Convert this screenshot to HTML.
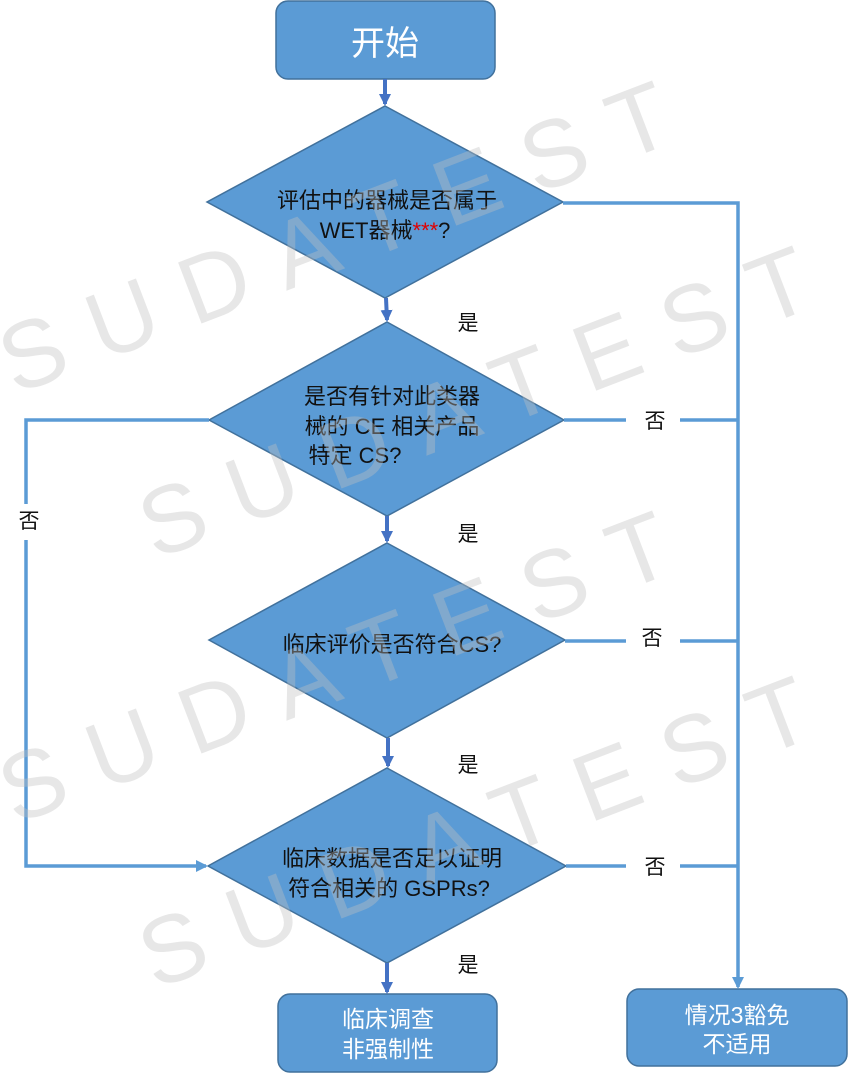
<!DOCTYPE html>
<html><head><meta charset="utf-8"><style>
body{margin:0;background:#fff;width:848px;height:1079px;overflow:hidden;position:relative;font-family:"Liberation Sans","Noto Sans CJK SC",sans-serif}
</style></head><body>
<svg width="848" height="1079" viewBox="0 0 848 1079" xmlns="http://www.w3.org/2000/svg" style="position:absolute;left:0;top:0">
<defs>
<marker id="a" markerWidth="12" markerHeight="12" refX="10" refY="6" orient="auto" markerUnits="userSpaceOnUse"><path d="M0,0 L12,6 L0,12 z" fill="#4472c4"/></marker>
<marker id="b" markerWidth="12" markerHeight="12" refX="10" refY="6" orient="auto" markerUnits="userSpaceOnUse"><path d="M0,0 L12,6 L0,12 z" fill="#5b9bd5"/></marker>
</defs>
<g font-family="Liberation Sans,Noto Sans CJK SC,sans-serif">
<rect x="276" y="1" width="219" height="78" rx="12" fill="#5b9bd5" stroke="#41719c" stroke-width="1.5"/>
<text x="385" y="55" font-size="34" fill="#fff" text-anchor="middle">开始</text>
<rect x="278" y="994" width="219" height="78" rx="12" fill="#5b9bd5" stroke="#41719c" stroke-width="1.5"/>
<text x="388" y="1027" font-size="23" fill="#fff" text-anchor="middle">临床调查</text>
<text x="388" y="1057" font-size="23" fill="#fff" text-anchor="middle">非强制性</text>
<rect x="627" y="989" width="220" height="77" rx="12" fill="#5b9bd5" stroke="#41719c" stroke-width="1.5"/>
<text x="737" y="1023" font-size="23" fill="#fff" text-anchor="middle">情况3豁免</text>
<text x="737" y="1052" font-size="23" fill="#fff" text-anchor="middle">不适用</text>
<polygon points="385,106 563,202 385,298 207,202" fill="#5b9bd5" stroke="#41719c" stroke-width="1.5"/>
<polygon points="387,322 564,420 387,516 209,420" fill="#5b9bd5" stroke="#41719c" stroke-width="1.5"/>
<polygon points="387,543 565,640 387,738 209,640" fill="#5b9bd5" stroke="#41719c" stroke-width="1.5"/>
<polygon points="387,768 566,866 387,963 208,866" fill="#5b9bd5" stroke="#41719c" stroke-width="1.5"/>
<g font-size="22" fill="#111" text-anchor="middle">
<text x="387" y="208">评估中的器械是否属于</text>
<text x="385" y="238">WET器械<tspan fill="#e00000">***</tspan>?</text>
<text x="392" y="404">是否有针对此类器</text>
<text x="392" y="434">械的 CE 相关产品</text>
<text x="355" y="463">特定 CS?</text>
<text x="392" y="652">临床评价是否符合CS?</text>
<text x="392" y="866">临床数据是否足以证明</text>
<text x="389" y="896">符合相关的 GSPRs?</text>
</g>
<g stroke="#4472c4" stroke-width="4" fill="none">
<line x1="385" y1="79" x2="385" y2="104" marker-end="url(#a)"/>
<line x1="386" y1="298" x2="387" y2="320" marker-end="url(#a)"/>
<line x1="387" y1="516" x2="387" y2="541" marker-end="url(#a)"/>
<line x1="388" y1="738" x2="388" y2="766" marker-end="url(#a)"/>
<line x1="387" y1="963" x2="387" y2="992" marker-end="url(#a)"/>
</g>
<g stroke="#5b9bd5" stroke-width="3.5" fill="none">
<polyline points="563,203 738,203 738,987" marker-end="url(#b)"/>
<line x1="564" y1="420" x2="626" y2="420"/><line x1="680" y1="420" x2="738" y2="420"/>
<line x1="565" y1="641" x2="626" y2="641"/><line x1="680" y1="641" x2="738" y2="641"/>
<line x1="566" y1="866" x2="626" y2="866"/><line x1="680" y1="866" x2="738" y2="866"/>
<polyline points="209,420 26,420 26,504"/>
<polyline points="26,540 26,866 206,866" marker-end="url(#b)"/>
</g>
<g font-size="21" fill="#111" text-anchor="middle">
<text x="468" y="330">是</text><text x="468" y="541">是</text><text x="468" y="772">是</text><text x="468" y="972">是</text>
<text x="655" y="428">否</text><text x="652" y="645">否</text><text x="655" y="874">否</text>
<text x="29" y="528">否</text>
</g>
<g font-size="95" fill="#bfbfbf" fill-opacity="0.38" letter-spacing="30">
<text transform="translate(15,395) rotate(-21)">SUDATEST</text>
<text transform="translate(155,560) rotate(-21)">SUDATEST</text>
<text transform="translate(15,825) rotate(-21)">SUDATEST</text>
<text transform="translate(155,990) rotate(-21)">SUDATEST</text>
</g>
</g>
</svg>
</body></html>
